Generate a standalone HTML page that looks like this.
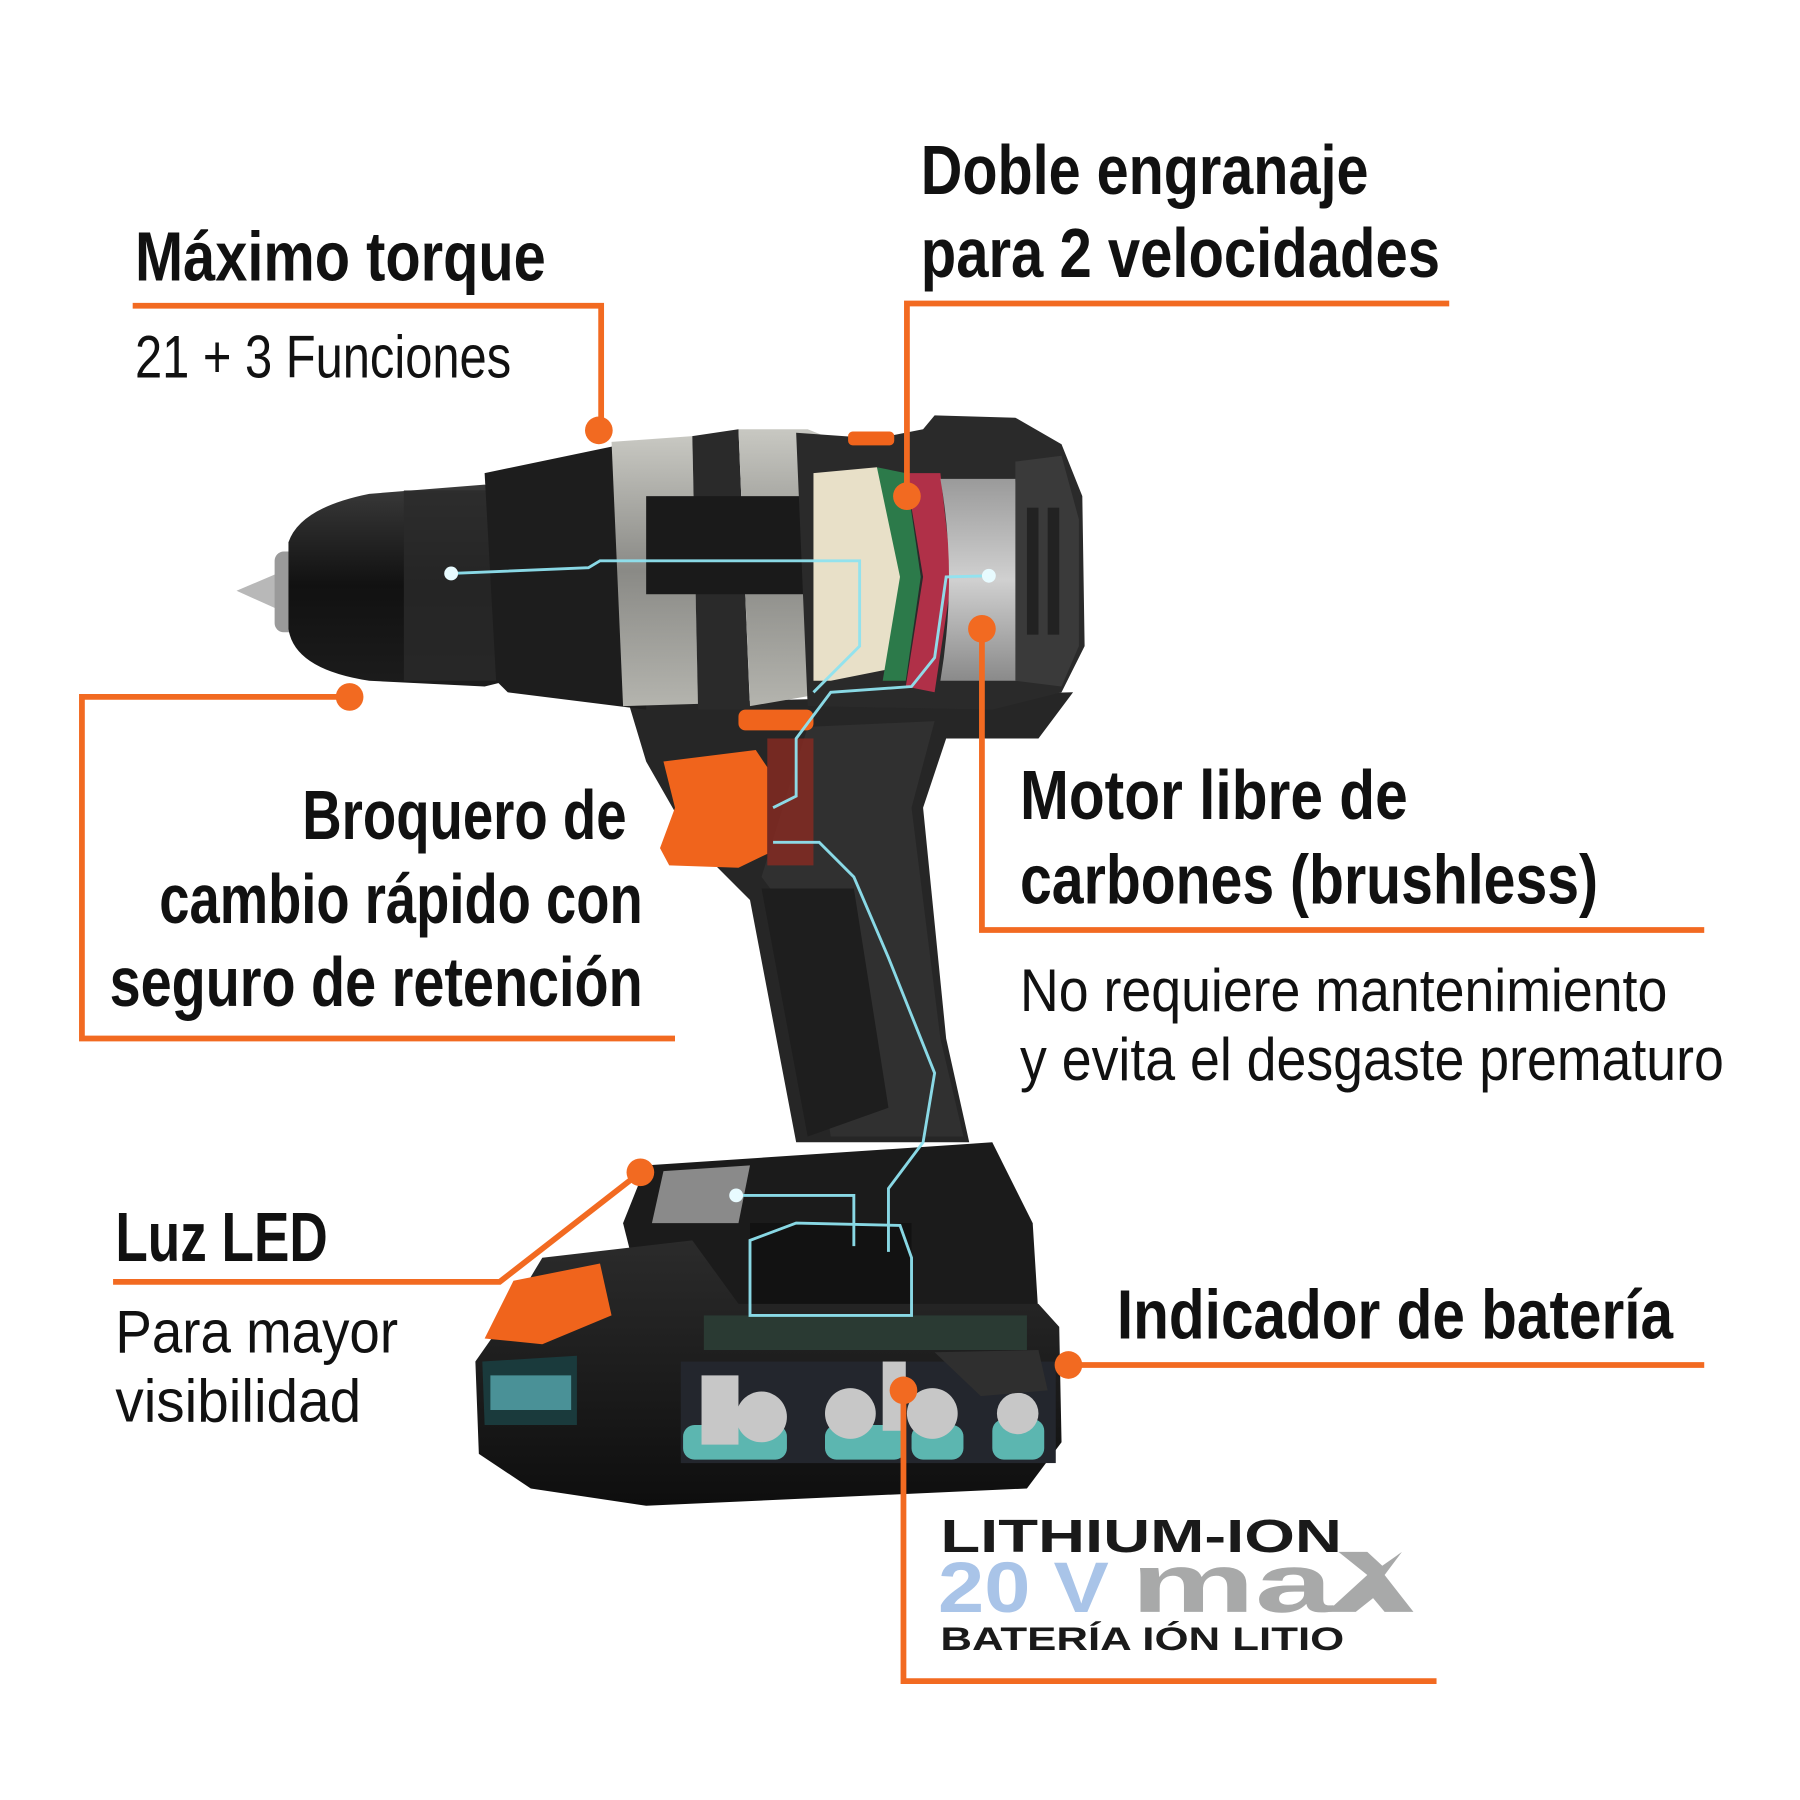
<!DOCTYPE html>
<html><head><meta charset="utf-8"><style>
html,body{margin:0;padding:0;background:#fff;width:1800px;height:1800px;overflow:hidden}
svg{display:block}
.h{font-family:"Liberation Sans",sans-serif;font-weight:bold;fill:#111}
.n{font-family:"Liberation Sans",sans-serif;fill:#111}
</style></head><body>
<svg width="1800" height="1800" viewBox="0 0 1560 1560" xmlns="http://www.w3.org/2000/svg">
<defs>
<linearGradient id="chuck" x1="0" y1="0" x2="0" y2="1"><stop offset="0" stop-color="#3a3a3a"/><stop offset=".5" stop-color="#111"/><stop offset="1" stop-color="#1c1c1c"/></linearGradient>
<linearGradient id="silver" x1="0" y1="0" x2="0" y2="1"><stop offset="0" stop-color="#c8c8c2"/><stop offset=".5" stop-color="#8a8a86"/><stop offset="1" stop-color="#b4b4ae"/></linearGradient>
<linearGradient id="motor" x1="0" y1="0" x2="0" y2="1"><stop offset="0" stop-color="#9a9a9a"/><stop offset=".5" stop-color="#d0d0d0"/><stop offset="1" stop-color="#8a8a8a"/></linearGradient>
<linearGradient id="bat" x1="0" y1="0" x2="0" y2="1"><stop offset="0" stop-color="#2b2b2b"/><stop offset="1" stop-color="#0e0e0e"/></linearGradient>
</defs>

<!-- ===== DRILL ===== -->
<!-- handle -->
<path d="M545,610 L930,600 L900,640 L820,640 L800,700 L820,900 L840,990 L690,990 L650,780 L600,730 L560,660 Z" fill="#262626"/>
<path d="M700,630 L810,625 L790,700 L815,900 L835,985 L720,985 L690,800 L660,760 Z" fill="#303030"/>
<path d="M660,770 L740,770 L770,960 L700,985 Z" fill="#1e1e1e"/>
<!-- base/foot -->
<path d="M560,1010 L860,990 L895,1060 L900,1140 L560,1140 L540,1060 Z" fill="#1b1b1b"/>
<path d="M575,1015 L650,1010 L640,1060 L565,1060 Z" fill="#8a8a8a"/>
<rect x="650" y="1060" width="140" height="85" fill="#121212"/>
<!-- battery -->
<path d="M440,1140 L470,1090 L600,1075 L640,1130 L900,1130 L918,1150 L920,1250 L890,1290 L560,1305 L460,1290 L415,1260 L412,1180 Z" fill="url(#bat)"/>
<path d="M420,1160 L445,1110 L520,1095 L530,1140 L470,1165 Z" fill="#f0641c"/>
<path d="M418,1180 L500,1175 L500,1235 L420,1235 Z" fill="#1a3a3c"/>
<rect x="425" y="1192" width="70" height="30" fill="#5fb7bd" opacity=".7"/>
<rect x="590" y="1180" width="325" height="88" fill="#23262d"/>
<g fill="#5cb6b0"><rect x="592" y="1235" width="90" height="30" rx="10"/><rect x="715" y="1235" width="70" height="30" rx="10"/><rect x="790" y="1235" width="45" height="30" rx="10"/><rect x="860" y="1230" width="45" height="35" rx="10"/></g>
<g fill="#c7c7c7"><rect x="608" y="1192" width="32" height="60"/><circle cx="660" cy="1228" r="22"/><circle cx="737" cy="1225" r="22"/><rect x="765" y="1180" width="20" height="60"/><circle cx="808" cy="1225" r="22"/><circle cx="882" cy="1225" r="18"/></g>
<path d="M810,1172 L900,1170 L908,1205 L850,1210 Z" fill="#2f2f2f"/>
<rect x="610" y="1140" width="280" height="30" fill="#2a3a33"/>
<!-- chuck -->
<path d="M205,512 L245,495 L245,530 Z" fill="#b8b8b8"/>
<rect x="238" y="478" width="30" height="70" rx="8" fill="#9a9a9a"/>
<path d="M250,470 Q260,440 320,428 L420,420 L460,430 L460,585 L420,595 L320,590 Q255,580 250,545 Z" fill="url(#chuck)"/>
<rect x="350" y="425" width="110" height="165" fill="#2a2a2a" opacity=".8"/>
<!-- collar + rings -->
<path d="M420,410 L540,385 L560,385 L560,615 L440,600 L430,590 Z" fill="#1d1d1d"/>
<path d="M530,383 L600,378 L605,610 L540,612 Z" fill="url(#silver)"/>
<path d="M600,378 L640,372 L650,615 L605,615 Z" fill="#2a2a2a"/>
<path d="M640,372 L700,372 L720,380 L720,600 L650,612 Z" fill="url(#silver)"/>
<rect x="560" y="430" width="170" height="85" fill="#1a1a1a"/>
<!-- motor section -->
<path d="M690,375 L760,380 L800,372 L810,360 L880,362 L920,385 L938,430 L940,560 L920,600 L860,615 L700,612 Z" fill="#2a2a2a"/>
<rect x="735" y="374" width="40" height="12" rx="4" fill="#f0641c"/>
<path d="M705,410 L760,405 L780,440 L790,520 L770,580 L720,590 L705,590 Z" fill="#e8e0c8"/>
<path d="M760,405 L785,410 L798,500 L785,590 L765,590 L780,500 Z" fill="#2c7a4a"/>
<path d="M785,410 L815,410 L825,500 L810,600 L785,595 L800,500 Z" fill="#b03048"/>
<path d="M815,415 L880,415 L885,590 L815,590 Q830,500 815,415 Z" fill="url(#motor)"/>
<path d="M880,400 L920,395 L935,450 L935,560 L920,595 L880,590 Z" fill="#3a3a3a"/>
<g fill="#222"><rect x="890" y="440" width="10" height="110"/><rect x="908" y="440" width="10" height="110"/></g>
<!-- trigger -->
<rect x="640" y="615" width="65" height="18" rx="6" fill="#f0641c"/>
<path d="M575,660 L655,650 L665,665 L665,740 L640,752 L580,750 L572,735 L585,700 Z" fill="#f0641c"/>
<rect x="665" y="640" width="40" height="110" fill="#8a2a22" opacity=".8"/>
<!-- cyan wires -->
<g fill="none" stroke="#8fe3f0" stroke-width="2.5" opacity=".95">
<path d="M391,497 L510,492 L520,486 L745,486 L745,560 L705,600"/>
<path d="M857,499 L820,500 L810,570 L790,595 L720,600 L690,640 L690,690 L670,700"/>
<path d="M670,730 L710,730 L740,760 L770,830 L810,930 L800,990 L770,1030 L770,1085"/>
<path d="M638,1036 L740,1036 L740,1080"/>
<path d="M650,1075 L690,1060 L780,1062 L790,1090 L790,1140 L650,1140 Z"/>
</g>
<g fill="#e8fbff"><circle cx="391" cy="497" r="6"/><circle cx="857" cy="499" r="6"/><circle cx="638" cy="1036" r="6"/></g>

<!-- ===== CALLOUT LINES ===== -->
<g fill="none" stroke="#f26a21" stroke-width="5">
<polyline points="115,265 521,265 521,373"/>
<polyline points="1256,263 786,263 786,430"/>
<polyline points="303,604 71,604 71,900 585,900"/>
<polyline points="851,545 851,806 1477,806"/>
<polyline points="98,1111 433,1111 555,1016"/>
<polyline points="926,1183 1477,1183"/>
<polyline points="783,1205 783,1457 1245,1457"/>
</g>
<g fill="#f26a21">
<circle cx="519" cy="373" r="12"/><circle cx="786" cy="430" r="12"/><circle cx="303" cy="604" r="12"/>
<circle cx="851" cy="545" r="12"/><circle cx="555" cy="1016" r="12"/><circle cx="926" cy="1183" r="12"/><circle cx="783" cy="1205" r="12"/>
</g>

<!-- ===== TEXT ===== -->
<text class="h" x="117" y="243" font-size="60" textLength="356" lengthAdjust="spacingAndGlyphs">Máximo torque</text>
<text class="n" x="117" y="327" font-size="52" textLength="326" lengthAdjust="spacingAndGlyphs">21 + 3 Funciones</text>
<text class="h" x="798" y="168" font-size="60" textLength="388" lengthAdjust="spacingAndGlyphs">Doble engranaje</text>
<text class="h" x="798" y="240" font-size="60" textLength="450" lengthAdjust="spacingAndGlyphs">para 2 velocidades</text>
<text class="h" x="262" y="727" font-size="60" textLength="281" lengthAdjust="spacingAndGlyphs">Broquero de</text>
<text class="h" x="138" y="800" font-size="60" textLength="419" lengthAdjust="spacingAndGlyphs">cambio rápido con</text>
<text class="h" x="95" y="872" font-size="60" textLength="462" lengthAdjust="spacingAndGlyphs">seguro de retención</text>
<text class="h" x="884" y="710" font-size="60" textLength="336" lengthAdjust="spacingAndGlyphs">Motor libre de</text>
<text class="h" x="884" y="783" font-size="60" textLength="501" lengthAdjust="spacingAndGlyphs">carbones (brushless)</text>
<text class="n" x="884" y="876" font-size="52" textLength="561" lengthAdjust="spacingAndGlyphs">No requiere mantenimiento</text>
<text class="n" x="884" y="936" font-size="52" textLength="610" lengthAdjust="spacingAndGlyphs">y evita el desgaste prematuro</text>
<text class="h" x="100" y="1093" font-size="60" textLength="184" lengthAdjust="spacingAndGlyphs">Luz LED</text>
<text class="n" x="100" y="1172" font-size="52" textLength="245" lengthAdjust="spacingAndGlyphs">Para mayor</text>
<text class="n" x="100" y="1232" font-size="52" textLength="213" lengthAdjust="spacingAndGlyphs">visibilidad</text>
<text class="h" x="968" y="1160" font-size="60" textLength="482" lengthAdjust="spacingAndGlyphs">Indicador de batería</text>

<text class="h" x="815" y="1345" font-size="40" textLength="348" lengthAdjust="spacingAndGlyphs" style="fill:#1a1a1a">LITHIUM-ION</text>
<text x="813" y="1397" font-family="Liberation Sans,sans-serif" font-weight="bold" font-size="62" fill="#a9c4e8" textLength="148" lengthAdjust="spacingAndGlyphs">20 V</text>
<text x="980" y="1397" font-family="Liberation Sans,sans-serif" font-weight="bold" font-size="72" fill="#a8a9a9" textLength="175" lengthAdjust="spacingAndGlyphs">ma</text>
<path d="M1150,1397 L1185,1365 L1160,1345 L1185,1345 L1198,1357 L1215,1345 L1200,1365 L1225,1397 L1200,1397 L1190,1385 L1175,1397 Z" fill="#a8a9a9"/>
<text class="h" x="815" y="1430" font-size="28" textLength="350" lengthAdjust="spacingAndGlyphs" style="fill:#1a1a1a">BATERÍA IÓN LITIO</text>
</svg>
</body></html>
